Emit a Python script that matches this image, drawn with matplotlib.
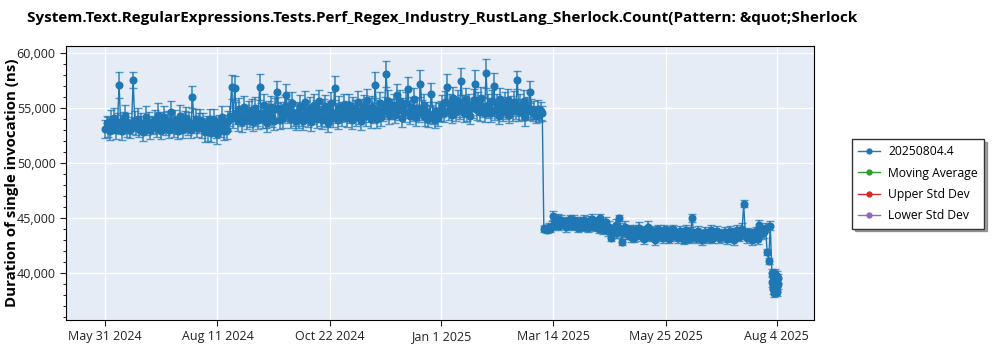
"""
Duracion de una invocacion (ns) por fecha, con barras de desviacion
"""

import matplotlib
matplotlib.use("Agg")
import matplotlib.pyplot as plt
from matplotlib.lines import Line2D
from matplotlib.ticker import FuncFormatter, MultipleLocator
import pandas as pd

plt.rcParams['font.family'] = ['Open Sans', 'DejaVu Sans']

title = "System.Text.RegularExpressions.Tests.Perf_Regex_Industry_RustLang_Sherlock.Count(Pattern: &quot;Sherlock"
ylabel = "Duration of single invocation (ns)"
legend_labels = ["20250804.4", "Moving Average", "Upper Std Dev", "Lower Std Dev"]
legend_colors = ["#1f77b4", "#2ca02c", "#d62728", "#9467bd"]

# valores (ns) por mes, errores en centenas de ns
may_jun24 = [53100, 53600, 53300, 52900, 53800, 53400, 54100, 53000, 53700, 57100,
             53500, 52900, 53900, 54300, 53200, 53600, 53000, 53400, 57550, 53800,
             53300, 54000, 53100, 53600, 52800, 53500, 54200, 53200, 53700, 53000, 53500]
may_jun24_err = [8, 7, 9, 8, 10, 7, 9, 8, 8, 12, 9, 8, 7, 10, 8, 9, 7, 8, 7, 9,
                 8, 10, 7, 9, 8, 8, 10, 7, 9, 8, 8]

jul24 = [53400, 53900, 53100, 54400, 53600, 52900, 53700, 54200, 53300, 53800,
         53000, 54600, 53500, 53200, 53900, 53400, 52900, 54300, 53600, 53100,
         53800, 54100, 53300, 53700, 53000, 56000, 53500, 54000, 53200, 53600, 53900]
jul24_err = [8, 9, 7, 10, 8, 7, 9, 10, 8, 9, 7, 10, 8, 8, 9, 8, 7, 10, 9, 8,
             9, 10, 8, 9, 7, 10, 8, 9, 8, 9, 10]

aug24 = [53200, 53700, 52800, 53500, 53000, 54000, 52700, 53400, 53900, 53100,
         52600, 53600, 53300, 54200, 52900, 53500, 53000, 53800, 54300, 56900,
         54100, 56800, 54500, 53800, 54900, 54200, 53700, 55100, 54400, 53900, 54600]
aug24_err = [9, 8, 9, 8, 10, 9, 8, 9, 10, 8, 9, 8, 9, 10, 8, 9, 8, 9, 9, 11,
             9, 11, 10, 9, 10, 8, 9, 10, 9, 8, 10]

sep24 = [54200, 54800, 53700, 55000, 54300, 53900, 56900, 54500, 54000, 55300,
         54100, 53600, 54700, 55100, 54200, 53800, 54900, 56400, 55000, 53900,
         54600, 54100, 55200, 56200, 54500, 54800, 54000, 55400, 54300, 53800]
sep24_err = [9, 10, 8, 10, 9, 8, 12, 9, 8, 10, 9, 8, 9, 10, 9, 8, 10, 10, 10, 8,
             9, 9, 10, 10, 9, 10, 8, 10, 9, 8]

oct24 = [54600, 54000, 55200, 54300, 53800, 55500, 54700, 54100, 55000, 53700,
         54400, 55300, 54800, 54000, 55600, 54300, 53900, 54900, 55200, 54200,
         53600, 54700, 55400, 54100, 56800, 54500, 53900, 55100, 54600, 54200, 55300]
oct24_err = [9, 8, 10, 9, 8, 10, 9, 8, 10, 8, 9, 10, 9, 8, 10, 9, 8, 9, 10, 9,
             8, 9, 10, 8, 11, 9, 8, 10, 9, 8, 10]

nov24 = [54700, 54100, 55300, 54500, 53900, 55000, 54800, 54200, 55500, 54400,
         53800, 54900, 55200, 54300, 55700, 54600, 54000, 55100, 54500, 57100,
         54000, 54800, 55400, 54200, 54700, 55000, 58100, 55600, 54400, 54900]
nov24_err = [9, 8, 10, 9, 8, 10, 9, 8, 10, 9, 8, 9, 10, 9, 10, 9, 8, 10, 9, 12,
             8, 9, 10, 8, 9, 10, 12, 10, 9, 9]

dec24 = [54900, 55300, 54400, 56200, 54800, 55600, 54100, 55000, 54600, 55400,
         56700, 54300, 55100, 54700, 55800, 54200, 55000, 54500, 57200, 54800,
         55300, 54200, 54600, 54000, 54400, 56300, 54300, 53900, 54700, 54100, 54600]
dec24_err = [9, 10, 8, 10, 9, 10, 8, 9, 9, 10, 11, 8, 9, 9, 10, 8, 9, 8, 12, 9,
             10, 8, 9, 7, 8, 10, 8, 7, 8, 7, 8]

jan25 = [54700, 55200, 54500, 55500, 56900, 54800, 55300, 54400, 55900, 55100,
         54600, 55600, 54900, 57400, 55200, 54500, 55800, 54700, 55300, 54300,
         55000, 55700, 57200, 54800, 55400, 54600, 55900, 55100, 54500, 58150, 55300]
jan25_err = [9, 10, 8, 10, 12, 9, 10, 8, 10, 9, 8, 10, 9, 12, 10, 8, 10, 9, 10, 8,
             9, 10, 12, 9, 10, 8, 10, 9, 8, 13, 10]

feb25 = [55000, 54500, 55600, 57000, 54800, 55300, 54300, 55800, 55100, 54600,
         55400, 54900, 55700, 54400, 55200, 54700, 55500, 54900, 57550, 54600,
         55300, 54800, 55600, 54200, 55100, 54700, 56450, 54900]
feb25_err = [9, 8, 10, 12, 9, 10, 8, 10, 9, 8, 10, 9, 10, 8, 9, 9, 10, 9, 8, 8,
             10, 9, 10, 8, 9, 8, 10, 9]

mar25_a = [54500, 54800, 54300, 54900, 54400, 54700, 54500]
mar25_a_err = [7, 8, 7, 8, 7, 8, 7]

mar25_b = [44000, 44100, 43900, 44200, 44000, 44300, 45200, 44700, 44400, 44900,
           44300, 44800, 44500, 44600, 44200, 44700, 44500, 44900, 44300, 44800,
           44400, 44600, 44100, 44500]
mar25_b_err = [3, 3, 3, 3, 3, 4, 4, 4, 4, 5, 4, 5, 4, 4, 5, 4, 5, 4, 4, 5,
               4, 5, 4, 5]

apr25 = [44600, 44200, 44800, 44400, 44100, 44700, 44300, 44900, 44500, 44200,
         44600, 44000, 45000, 44400, 43900, 44300, 44600, 43800, 44200, 43200,
         44000, 43700, 44400, 43600, 45000, 44100, 42800, 43700, 44200, 43500]
apr25_err = [5, 4, 5, 4, 4, 5, 4, 5, 5, 4, 5, 4, 4, 5, 4, 5, 5, 4, 5, 3,
             4, 5, 5, 4, 3, 4, 3, 4, 5, 4]

may25 = [43600, 44000, 43300, 43800, 43200, 43900, 43500, 44100, 43400, 43700,
         43100, 43900, 43600, 44200, 43300, 43800, 43500, 43000, 43700, 44000,
         43400, 43600, 43200, 43900, 43500, 43800, 43100, 43700, 43400, 44000, 43500]
may25_err = [5, 4, 5, 5, 4, 5, 4, 5, 5, 4, 5, 4, 5, 5, 4, 5, 4, 5, 5, 4,
             5, 4, 5, 5, 4, 5, 4, 5, 5, 4, 5]

jun25 = [43500, 43200, 43800, 43300, 43600, 43000, 43900, 43400, 43100, 43700,
         45000, 43300, 43600, 43200, 43800, 43400, 43000, 43500, 43700, 43200,
         43600, 43300, 43900, 43100, 43500, 43400, 43800, 43200, 43600, 43300]
jun25_err = [4, 5, 5, 4, 5, 4, 5, 5, 4, 5, 4, 5, 4, 5, 5, 4, 5, 4, 5, 5,
             4, 5, 5, 4, 5, 4, 5, 5, 4, 5]

jul25 = [43400, 43700, 43100, 43500, 43800, 43200, 43600, 43000, 43400, 43900,
         43300, 43600, 44000, 46300, 43500, 43200, 43700, 43400, 43000, 43600,
         43300, 43800, 43100, 44400, 43500, 43900, 43700, 44100, 41900, 41100, 44300]
jul25_err = [4, 5, 5, 4, 5, 4, 5, 5, 4, 5, 4, 5, 5, 3, 4, 5, 4, 5, 5, 4,
             5, 4, 5, 4, 4, 5, 5, 4, 3, 3, 4]

aug25 = [40000, 39200, 38500, 39600, 38900, 39800, 38200, 39400, 38700, 39900,
         38400, 39100, 38800, 39700, 38300, 39000, 39500]
aug25_err = [4, 5, 4, 5, 4, 5, 4, 5, 4, 5, 4, 5, 4, 5, 4, 5, 4]

blocks = [
    ("2024-05-31", "D", may_jun24, may_jun24_err),
    ("2024-07-01", "D", jul24, jul24_err),
    ("2024-08-01", "D", aug24, aug24_err),
    ("2024-09-01", "D", sep24, sep24_err),
    ("2024-10-01", "D", oct24, oct24_err),
    ("2024-11-01", "D", nov24, nov24_err),
    ("2024-12-01", "D", dec24, dec24_err),
    ("2025-01-01", "D", jan25, jan25_err),
    ("2025-02-01", "D", feb25, feb25_err),
    ("2025-03-01", "D", mar25_a, mar25_a_err),
    ("2025-03-08", "D", mar25_b, mar25_b_err),
    ("2025-04-01", "D", apr25, apr25_err),
    ("2025-05-01", "D", may25, may25_err),
    ("2025-06-01", "D", jun25, jun25_err),
    ("2025-07-01", "D", jul25, jul25_err),
    ("2025-08-01", "6h", aug25, aug25_err),
]

tick_dates = ["2024-05-31", "2024-08-11", "2024-10-22", "2025-01-01",
              "2025-03-14", "2025-05-25", "2025-08-04"]


def main():
    dates, values, errs = [], [], []
    for start, freq, v, e in blocks:
        dates += list(pd.date_range(start, periods=len(v), freq=freq))
        values += v
        errs += [x * 100 for x in e]

    fig = plt.figure(figsize=(10, 3.5), dpi=100)
    ax = fig.add_axes([0.066, 0.086, 0.748, 0.783])
    ax.set_facecolor("#e5ecf6")

    ax.errorbar(dates, values, yerr=errs, fmt="none", ecolor="#1f77b4",
                elinewidth=1.3, capsize=3, alpha=0.75, zorder=2)
    ax.plot(dates, values, "-o", color="#1f77b4", lw=1, ms=4.8, zorder=3)

    ax.set_ylim(35730, 60640)
    ax.set_xlim(pd.Timestamp("2024-05-06"), pd.Timestamp("2025-08-28"))
    ax.yaxis.set_major_locator(MultipleLocator(5000))
    ax.yaxis.set_minor_locator(MultipleLocator(1000))
    ax.yaxis.set_major_formatter(FuncFormatter(lambda v, p: f"{v:,.0f}"))

    ticks = [pd.Timestamp(d) for d in tick_dates]
    ax.set_xticks(ticks)
    ax.set_xticklabels([f"{d:%b} {d.day} {d.year}" for d in ticks])

    ax.grid(True, color="white", lw=1)
    ax.set_axisbelow(True)
    ax.tick_params(labelsize=9, colors="#222222", length=4)
    ax.tick_params(which="minor", length=2.5)
    for s in ax.spines.values():
        s.set_color("black")

    ax.set_ylabel(ylabel, fontsize=10.8, fontweight="bold")
    ax.yaxis.set_label_coords(-0.0635, 0.5)
    fig.text(0.027, 0.948, title, fontsize=11, fontweight="bold", va="center")

    handles = [Line2D([], [], color=c, marker="o", ms=3.5, lw=1) for c in legend_colors]
    leg = fig.legend(handles, legend_labels, loc="upper left",
                     bbox_to_anchor=(0.846, 0.62), fontsize=8.7, frameon=True,
                     fancybox=False, shadow=True, edgecolor="#333333",
                     handlelength=1.8, handletextpad=0.7, borderpad=0.5,
                     labelspacing=0.7)
    leg.get_frame().set_linewidth(1)

    fig.savefig("out.png", dpi=100)


if __name__ == "__main__":
    main()
